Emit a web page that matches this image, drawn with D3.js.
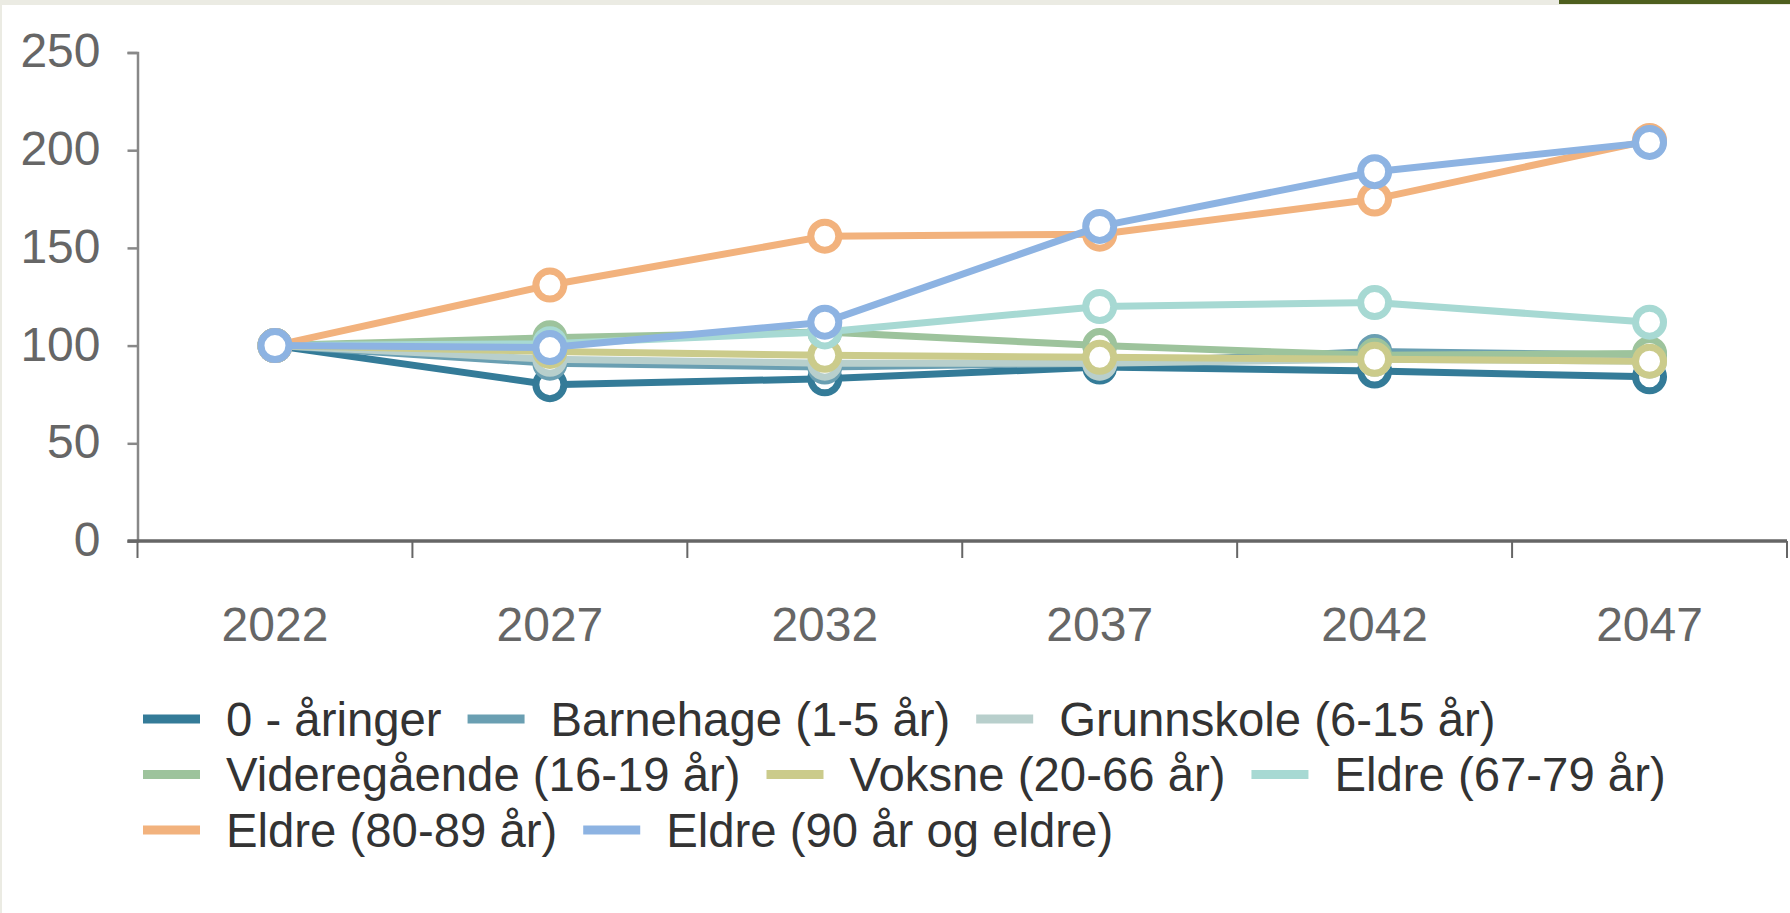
<!DOCTYPE html>
<html>
<head>
<meta charset="utf-8">
<script src="https://cdn.jsdelivr.net/npm/d3@7"></script>
<style>
  body { margin: 0; background: #ebebe3; }
  svg { display: block; }
</style>
</head>
<body>
<div id="chart"></div>
<script>
// kategorier og serier (indeks, 2022 = 100)
const years = ["2022", "2027", "2032", "2037", "2042", "2047"];
const yTicks = [0, 50, 100, 150, 200, 250];

const seriesNames = [
  "0 - åringer", "Barnehage (1-5 år)", "Grunnskole (6-15 år)",
  "Videregående (16-19 år)", "Voksne (20-66 år)", "Eldre (67-79 år)",
  "Eldre (80-89 år)", "Eldre (90 år og eldre)"
];
const colors = ["#347b98", "#6a9fb2", "#b8cfcc", "#9dc39c", "#cbcb8b", "#a7d9d3", "#f2b27d", "#8db3e2"];

const aringer0     = [100, 80, 83, 89, 87, 84];
const barnehage    = [100, 91, 89, 91, 97, 95];
const grunnskole   = [100, 93, 91, 91, 93, 92];
const videregaende = [100, 104, 107, 100, 95, 96];
const voksne       = [100, 97, 95, 94, 93, 92];
const eldre6779    = [100, 101, 107, 120, 122, 112];
const eldre8089    = [100, 131, 156, 157, 175, 205];
const eldre90      = [100, 99, 112, 161, 189, 204];

const allValues = [aringer0, barnehage, grunnskole, videregaende, voksne, eldre6779, eldre8089, eldre90];
const series = seriesNames.map((name, i) => ({ name: name, color: colors[i], values: allValues[i] }));

const W = 1790, H = 913;
const plotLeft = 137.5, plotRight = 1787, plotTop = 52.5, plotBottom = 541;

const svg = d3.select("#chart").append("svg")
  .attr("width", W)
  .attr("height", H);

// bakgrunn
svg.append("rect").attr("x", 2).attr("y", 5).attr("width", W - 2).attr("height", H - 5).attr("fill", "#fff");
svg.append("rect").attr("x", 1559).attr("y", 0).attr("width", W - 1559).attr("height", 4).attr("fill", "#4e5f1f");

const x = d3.scaleBand().domain(years).range([plotLeft, plotRight]);
const y = d3.scaleLinear().domain([0, 250]).range([plotBottom, plotTop]);

const font = "Arial, 'Liberation Sans', sans-serif";

// y-akse
const yAxis = svg.append("g")
  .attr("transform", `translate(${plotLeft},0)`)
  .call(d3.axisLeft(y).tickValues(yTicks).tickSize(10).tickPadding(27));
yAxis.select(".domain").attr("stroke", "#888").attr("stroke-width", 2.5);
yAxis.selectAll(".tick line").attr("stroke", "#888").attr("stroke-width", 2.5);
yAxis.selectAll(".tick text")
  .attr("fill", "#666")
  .attr("dy", "0.3em")
  .style("font-family", font)
  .style("font-size", "48px");

// x-akse
const xAxis = svg.append("g")
  .attr("transform", `translate(0,${plotBottom})`)
  .call(d3.axisBottom(x).tickSize(0).tickPadding(0));
xAxis.select(".domain").remove();
svg.append("line")
  .attr("x1", plotLeft - 10).attr("x2", plotRight)
  .attr("y1", plotBottom).attr("y2", plotBottom)
  .attr("stroke", "#666").attr("stroke-width", 3.5);
svg.selectAll(".xtick")
  .data(d3.range(years.length + 1))
  .enter().append("line")
  .attr("class", "xtick")
  .attr("x1", i => plotLeft + i * x.step())
  .attr("x2", i => plotLeft + i * x.step())
  .attr("y1", plotBottom)
  .attr("y2", plotBottom + 17)
  .attr("stroke", "#666")
  .attr("stroke-width", 2);
xAxis.selectAll(".tick text")
  .attr("y", 100)
  .attr("dy", 0)
  .attr("fill", "#666")
  .style("font-family", font)
  .style("font-size", "48px");

// linjer
const line = d3.line()
  .x((d, i) => x(years[i]) + x.bandwidth() / 2)
  .y(d => y(d));

const g = svg.selectAll(".serie")
  .data(series)
  .enter().append("g")
  .attr("class", "serie");

g.append("path")
  .attr("d", d => line(d.values))
  .attr("fill", "none")
  .attr("stroke", d => d.color)
  .attr("stroke-width", 7)
  .attr("stroke-linejoin", "round")
  .attr("stroke-linecap", "round");

g.selectAll("circle")
  .data(d => d.values.map((v, i) => ({ v: v, i: i, color: d.color })))
  .enter().append("circle")
  .attr("cx", d => x(years[d.i]) + x.bandwidth() / 2)
  .attr("cy", d => y(d.v))
  .attr("r", 14)
  .attr("fill", "#fff")
  .attr("stroke", d => d.color)
  .attr("stroke-width", 7);

// legende
const legend = svg.append("g");
const legendX = 143, rowY = [719, 774.5, 830], maxRight = 1785;
let lx = legendX, row = 0;
series.forEach(s => {
  const item = legend.append("g");
  item.append("rect")
    .attr("width", 57).attr("height", 9)
    .attr("y", -4.5)
    .attr("fill", s.color);
  const t = item.append("text")
    .attr("x", 83)
    .attr("dy", "0.35em")
    .attr("fill", "#333")
    .style("font-family", font)
    .style("font-size", "47.3px")
    .text(s.name);
  const w = 83 + t.node().getComputedTextLength();
  if (lx + w > maxRight && lx > legendX) { row++; lx = legendX; }
  item.attr("transform", `translate(${lx},${rowY[row]})`);
  lx += w + 26;
});
</script>
</body>
</html>
